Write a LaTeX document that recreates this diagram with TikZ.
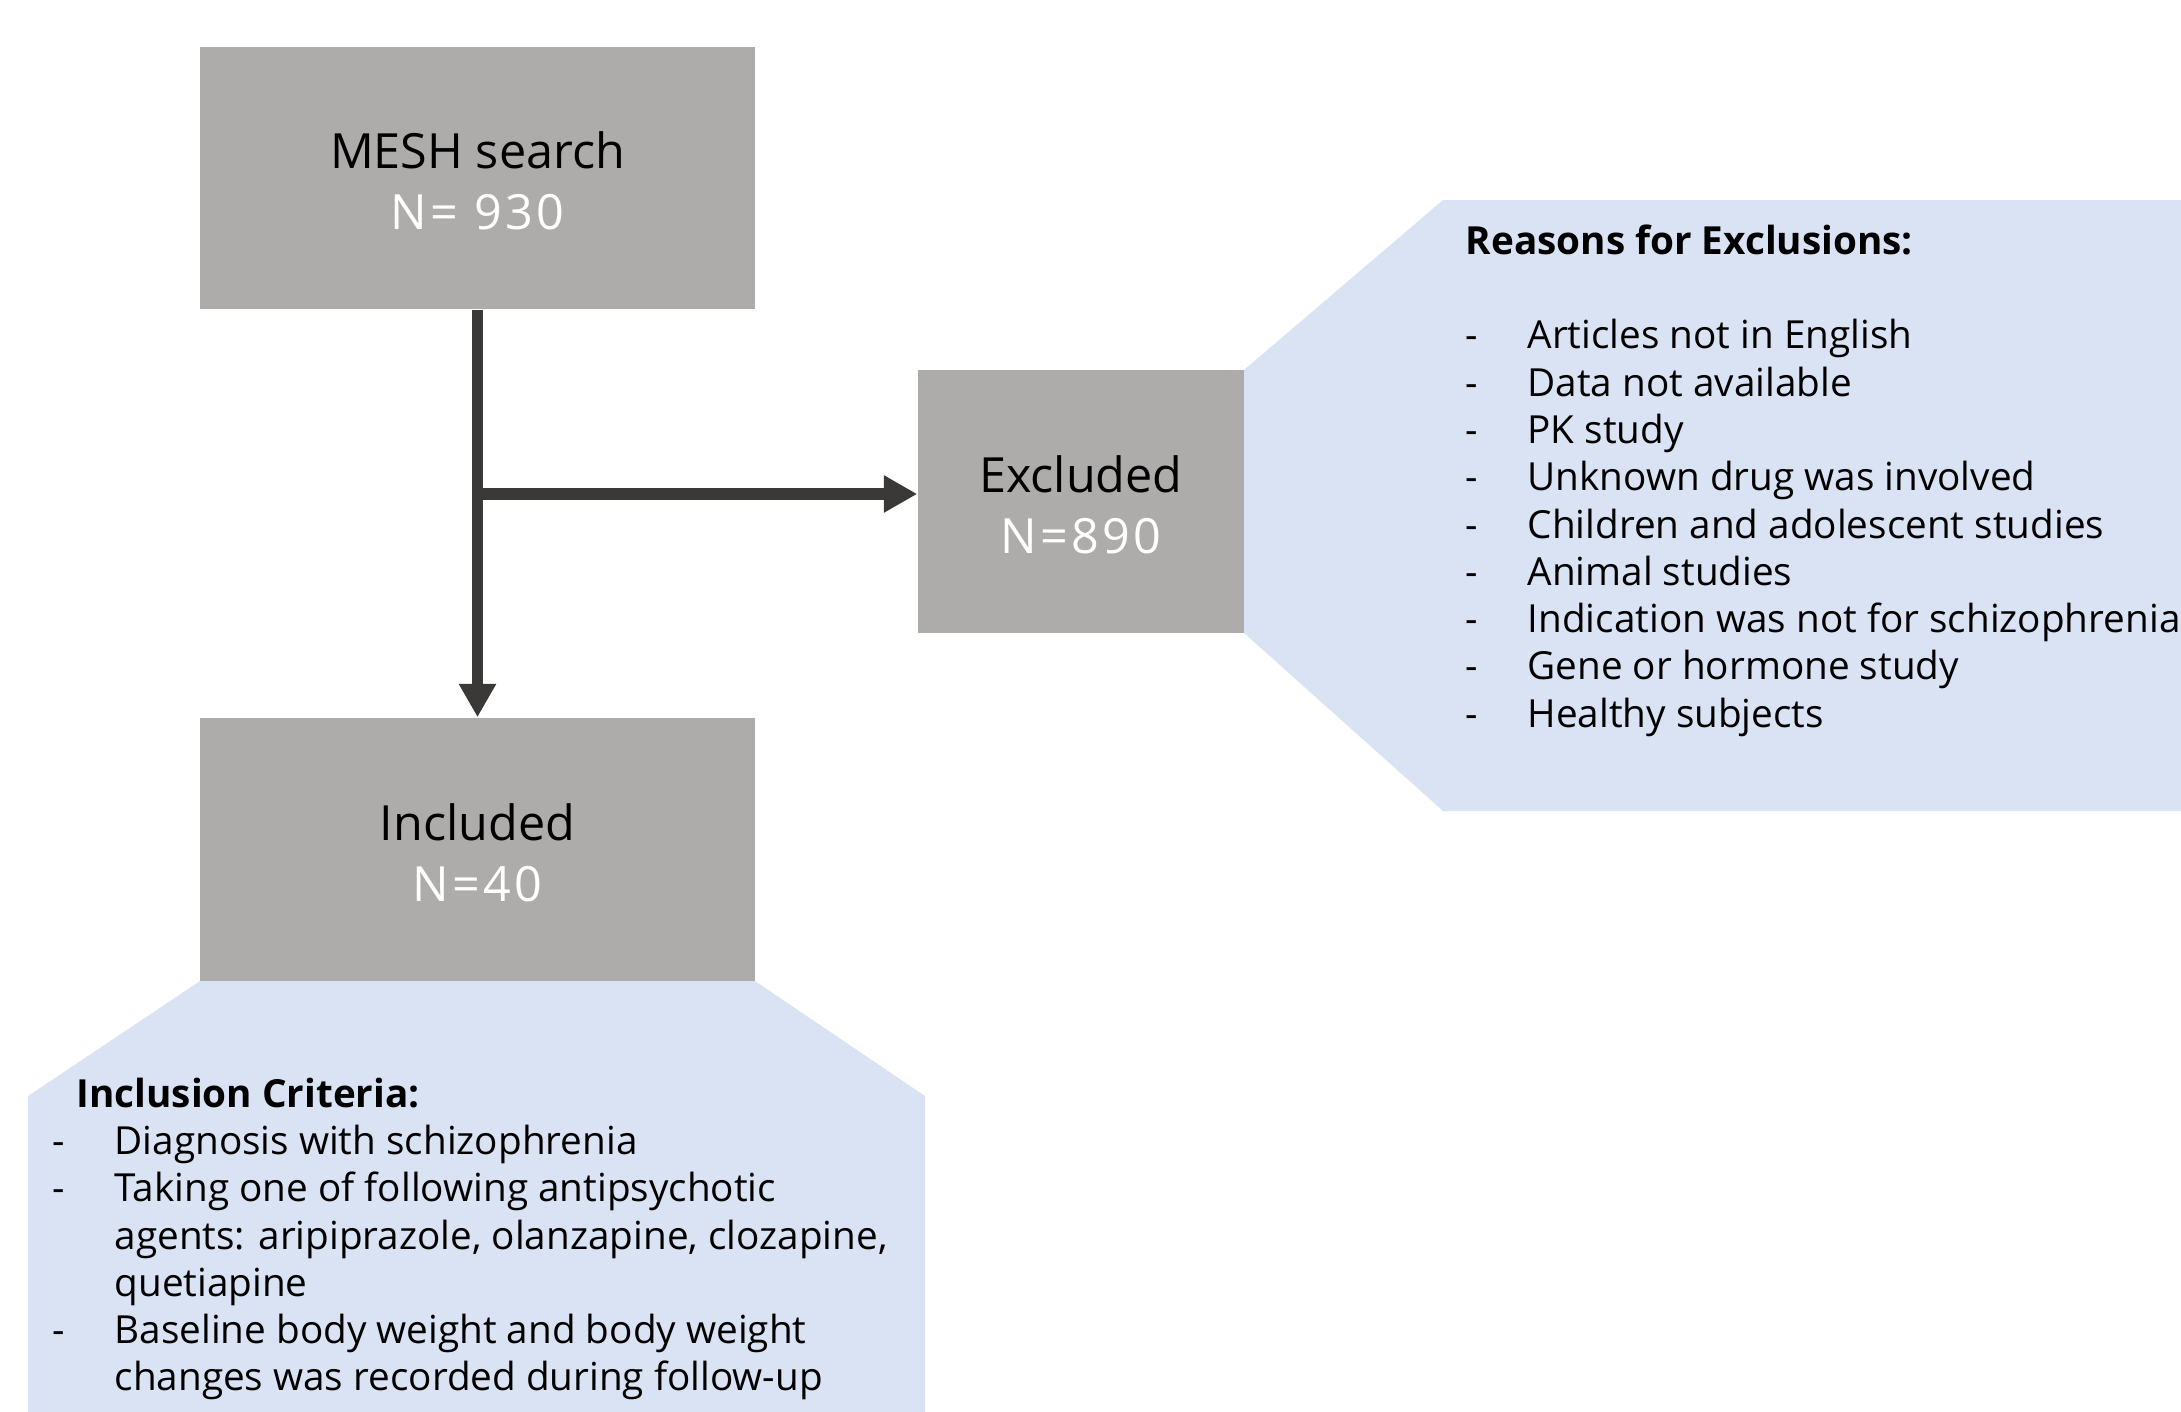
\documentclass[tikz,border=0pt]{standalone}
\usepackage{fontspec}
\setmainfont{Open Sans}
\usetikzlibrary{arrows.meta}
\definecolor{boxgray}{HTML}{AEABAB}
\definecolor{paleblue}{HTML}{DAE3F3}
\definecolor{arrowdark}{HTML}{3B3838}
\newcommand{\countline}[1]{{\color{white}\addfontfeature{LetterSpace=7}#1}}
\newcommand{\dashitem}{\makebox[17.6pt][l]{-}}
\newcommand{\contline}{\hspace*{17.6pt}}
\begin{document}
\begin{tikzpicture}[x=0.01cm,y=-0.01cm,
  graybox/.style={fill=boxgray, draw=none, inner sep=0, align=center,
    font=\fontsize{13.8}{17.4}\selectfont},
  flow/.style={draw=arrowdark, line width=3.2pt, -{Triangle[width=10pt,length=9.5pt]}},
  listtext/.style={inner sep=0, anchor=north west, align=left,
    font=\fontsize{11}{13.45}\selectfont},
  panel/.style={fill=paleblue, draw=none}]
\useasboundingbox (0,0) rectangle (2181,1412);
% pale blue panels
\path[panel] (1244,370) -- (1443,200) -- (2181,200) -- (2181,811) -- (1443,811) -- (1244,633) -- cycle;
\path[panel] (200,981) -- (755,981) -- (925,1096) -- (925,1412) -- (28,1412) -- (28,1096) -- cycle;
% boxes
\node[graybox, minimum width=5.55cm, minimum height=2.62cm] (mesh) at (477.5,178)
  {\rule{0pt}{12.2pt}MESH search\\\countline{N=\ 930}};
\node[graybox, minimum width=5.55cm, minimum height=2.63cm] (incl) at (477.5,849.5)
  {\rule{0pt}{12.2pt}Included\\\countline{N=40}};
\node[graybox, minimum width=3.26cm, minimum height=2.63cm] (excl) at (1081,501.5)
  {\rule{0pt}{12.2pt}Excluded\\\countline{N=890}};
% connectors
\draw[flow] (mesh.south) -- (incl.north);
\coordinate (j) at (477.5,494);
\draw[flow] (j) -- (j -| excl.west);
% lists
\node[listtext] (reasons) at (1465,224) {%
  \textbf{Reasons for Exclusions:}\\[13.45pt]
  \dashitem Articles not in English\\
  \dashitem Data not available\\
  \dashitem PK study\\
  \dashitem Unknown drug was involved\\
  \dashitem Children and adolescent studies\\
  \dashitem Animal studies\\
  \dashitem Indication was not for schizophrenia\\
  \dashitem Gene or hormone study\\
  \dashitem Healthy subjects};
\node[listtext] (criteria) at (52,1077) {%
  \hspace*{6.8pt}\textbf{Inclusion Criteria:}\\
  \dashitem Diagnosis with schizophrenia\\
  \dashitem Taking one of following antipsychotic\\
  \contline agents: aripiprazole, olanzapine, clozapine,\\
  \contline quetiapine\\
  \dashitem Baseline body weight and body weight\\
  \contline changes was recorded during follow-up};
\end{tikzpicture}
\end{document}
